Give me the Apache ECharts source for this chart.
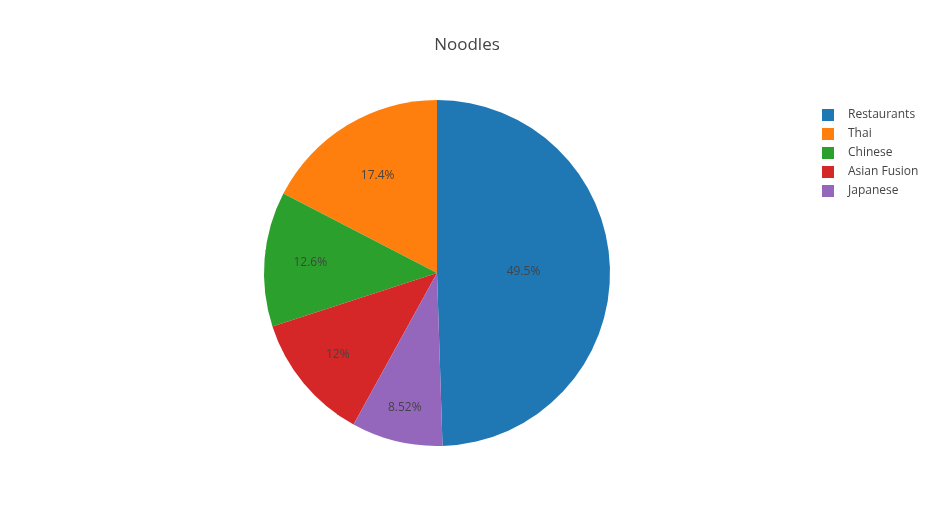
<!DOCTYPE html>
<html>
<head>
<meta charset="utf-8">
<script src="https://cdn.jsdelivr.net/npm/echarts@6/dist/echarts.min.js"></script>
<style>html,body{margin:0;padding:0;background:#fff}#main{width:936px;height:525px}</style>
</head>
<body>
<div id="main"></div>
<script>
var categories = ['Restaurants', 'Thai', 'Chinese', 'Asian Fusion', 'Japanese'];
var values = [49.5, 17.4, 12.6, 12, 8.52];
var labels = ['49.5%', '17.4%', '12.6%', '12%', '8.52%'];
var colors = ['#1f77b4', '#ff7f0e', '#2ca02c', '#d62728', '#9467bd'];

var total = values.reduce(function (a, b) { return a + b; }, 0);
var cx = 437, cy = 273, R = 173;
// first slice ends at 12 o'clock going counterclockwise, so it sits on the right
var startAngle = 90 - values[0] / total * 360;

var chart = echarts.init(document.getElementById('main'), null, {renderer: 'canvas'});
chart.setOption({
  animation: false,
  color: colors,
  textStyle: {fontFamily: '"Open Sans", sans-serif'},
  title: {
    text: 'Noodles',
    left: 462, top: 32, textAlign: 'center',
    textStyle: {fontFamily: '"Open Sans", sans-serif', fontSize: 17, fontWeight: 'normal', color: '#444'}
  },
  legend: {
    orient: 'vertical',
    left: 817, top: 104,
    itemWidth: 12, itemHeight: 12, itemGap: 7,
    icon: 'rect',
    data: categories,
    textStyle: {fontFamily: '"Open Sans", sans-serif', fontSize: 12, color: '#444', padding: [0, 0, 0, 9]}
  },
  series: [{
    type: 'pie',
    center: [cx, cy],
    radius: [0, R],
    startAngle: startAngle,
    clockwise: false,
    avoidLabelOverlap: false,
    itemStyle: {borderWidth: 0},
    label: {
      show: true, position: 'inside',
      fontFamily: '"Open Sans", sans-serif', fontSize: 12, color: '#444',
      formatter: function (p) { return labels[p.dataIndex]; }
    },
    labelLayout: function (p) {
      var r = p.labelRect;
      var lx = r.x + r.width / 2, ly = r.y + r.height / 2;
      var pct = values[p.dataIndex] / total * 100;
      var f = pct > 25 ? 0.5 : Math.min(0.82, 0.93 - 0.0155 * pct);
      var dx = lx - cx, dy = ly - cy;
      var d = Math.sqrt(dx * dx + dy * dy) || 1;
      var s = f * R / d;
      return {x: cx + dx * s, y: cy + dy * s, align: 'center', verticalAlign: 'middle'};
    },
    data: categories.map(function (c, i) { return {name: c, value: values[i]}; })
  }]
});
</script>
</body>
</html>
